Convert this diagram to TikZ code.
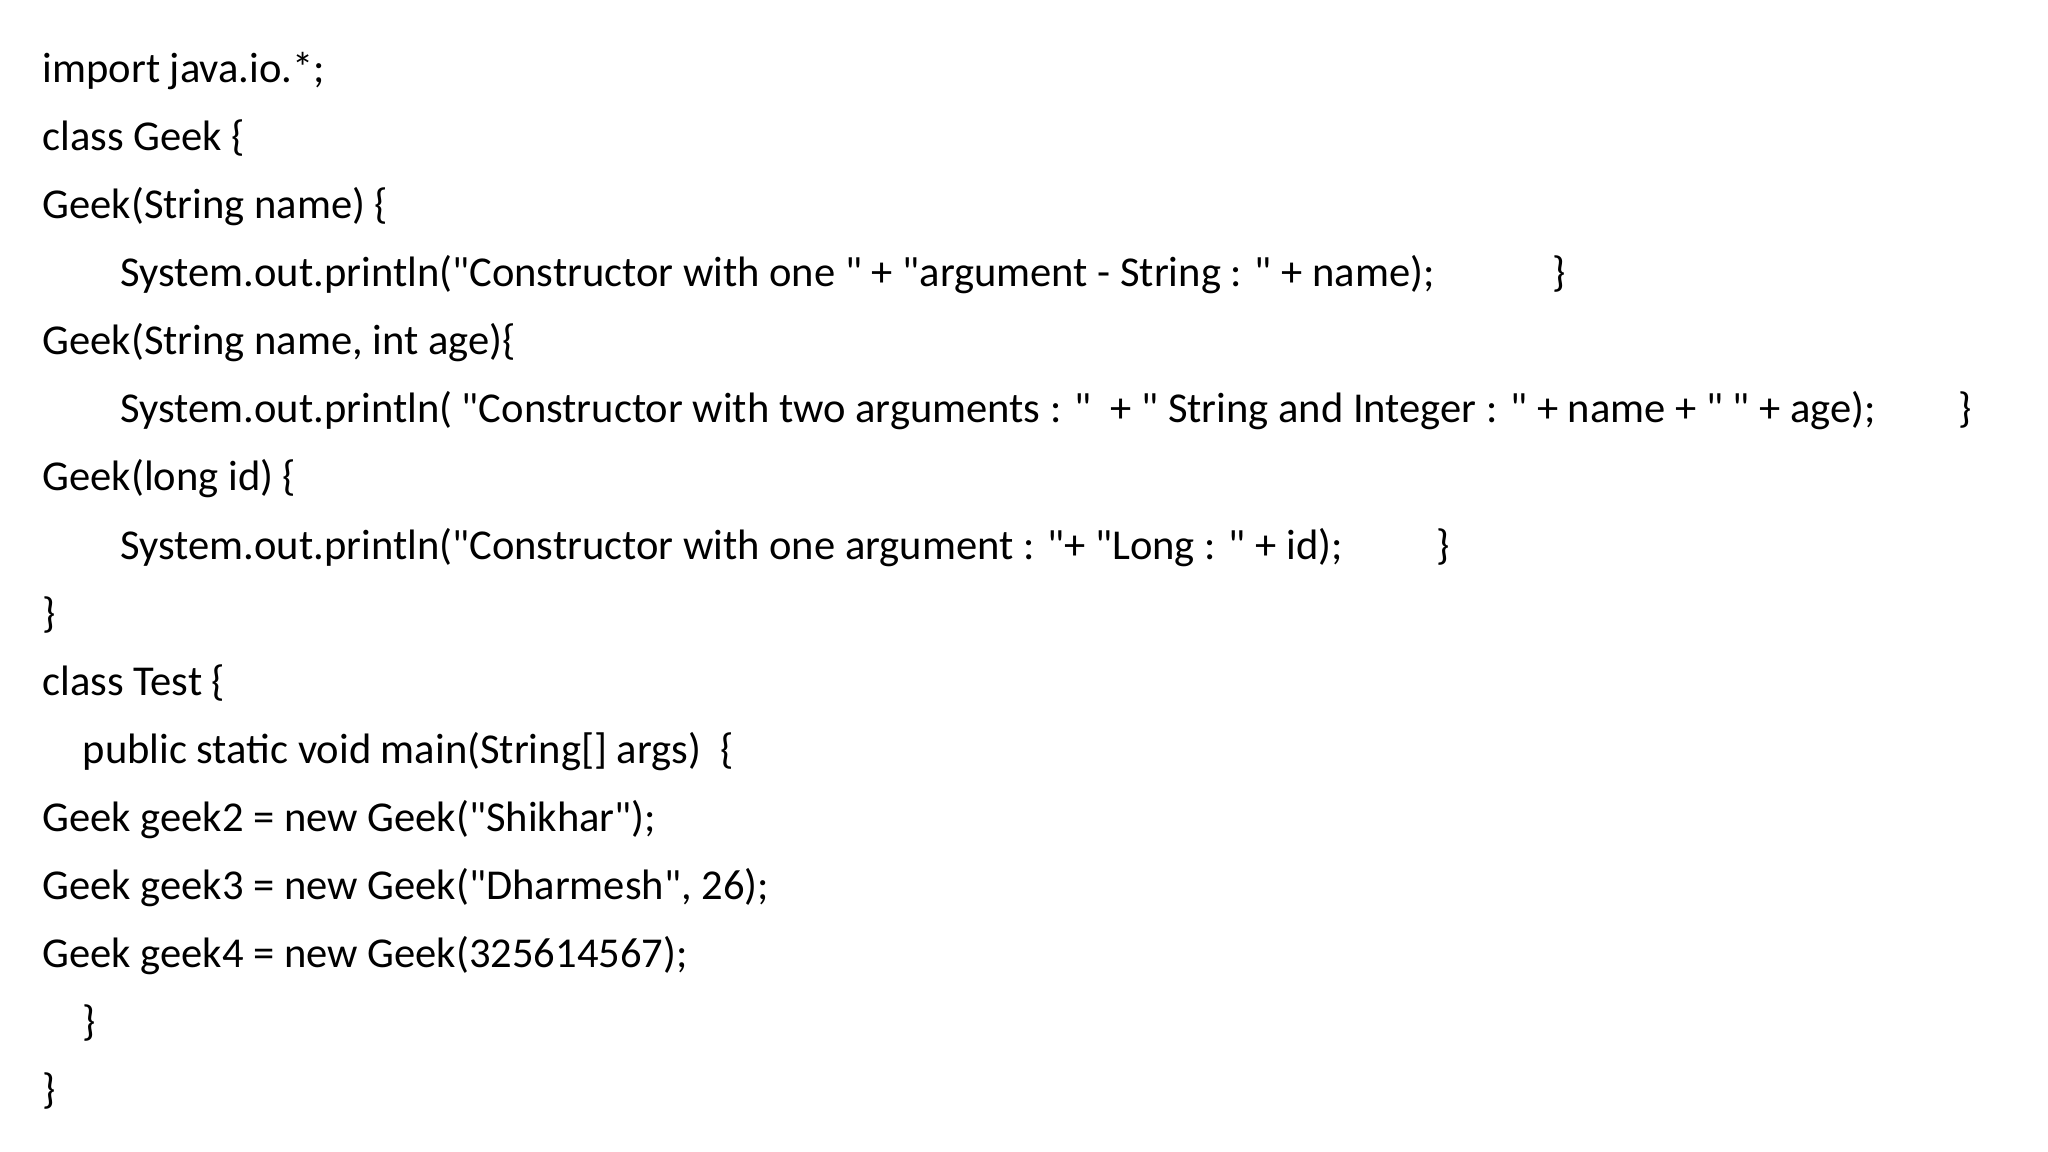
\documentclass[tikz,border=0pt]{standalone}
\usepackage{fontspec}
\setmainfont{Carlito}[Ligatures=TeXOff]
\begin{document}
\begin{tikzpicture}[x=0.01cm,y=-0.01cm,
  code/.style={anchor=mid west,inner sep=0pt,font=\fontsize{12.1}{14}\selectfont}]
\useasboundingbox (0,0) rectangle (2048,1152);
\fill[white] (0,0) rectangle (2048,1152);
\def\ly#1{74+68.1*#1}
\node[code] (l1) at (42,{\ly{0}}) {import java.io.*;};
\node[code] (l2) at (42,{\ly{1}}) {class Geek \{};
\node[code] (l3) at (42,{\ly{2}}) {Geek(String name) \{};
\node[code] (l4) at (120,{\ly{3}}) {System.out.println("Constructor with one " + "argument - String : " + name);};
\node[code] (b4) at (1552,{\ly{3}}) {\}};
\node[code] (l5) at (42,{\ly{4}}) {Geek(String name, int age)\{};
\node[code] (l6) at (120,{\ly{5}}) {System.out.println( "Constructor with two arguments : "\ \ + " String and Integer : " + name + " " + age);};
\node[code] (b6) at (1958,{\ly{5}}) {\}};
\node[code] (l7) at (42,{\ly{6}}) {Geek(long id) \{};
\node[code] (l8) at (120,{\ly{7}}) {System.out.println("Constructor with one argument : "+ "Long : " + id);};
\node[code] (b8) at (1436,{\ly{7}}) {\}};
\node[code] (l9) at (42,{\ly{8}}) {\}};
\node[code] (l10) at (42,{\ly{9}}) {class Test \{};
\node[code] (l11) at (82,{\ly{10}}) {public static void main(String[] args)\ \ \{};
\node[code] (l12) at (42,{\ly{11}}) {Geek geek2 = new Geek("Shikhar");};
\node[code] (l13) at (42,{\ly{12}}) {Geek geek3 = new Geek("Dharmesh", 26);};
\node[code] (l14) at (42,{\ly{13}}) {Geek geek4 = new Geek(325614567);};
\node[code] (l15) at (82,{\ly{14}}) {\}};
\node[code] (l16) at (42,{\ly{15}}) {\}};
\end{tikzpicture}
\end{document}
